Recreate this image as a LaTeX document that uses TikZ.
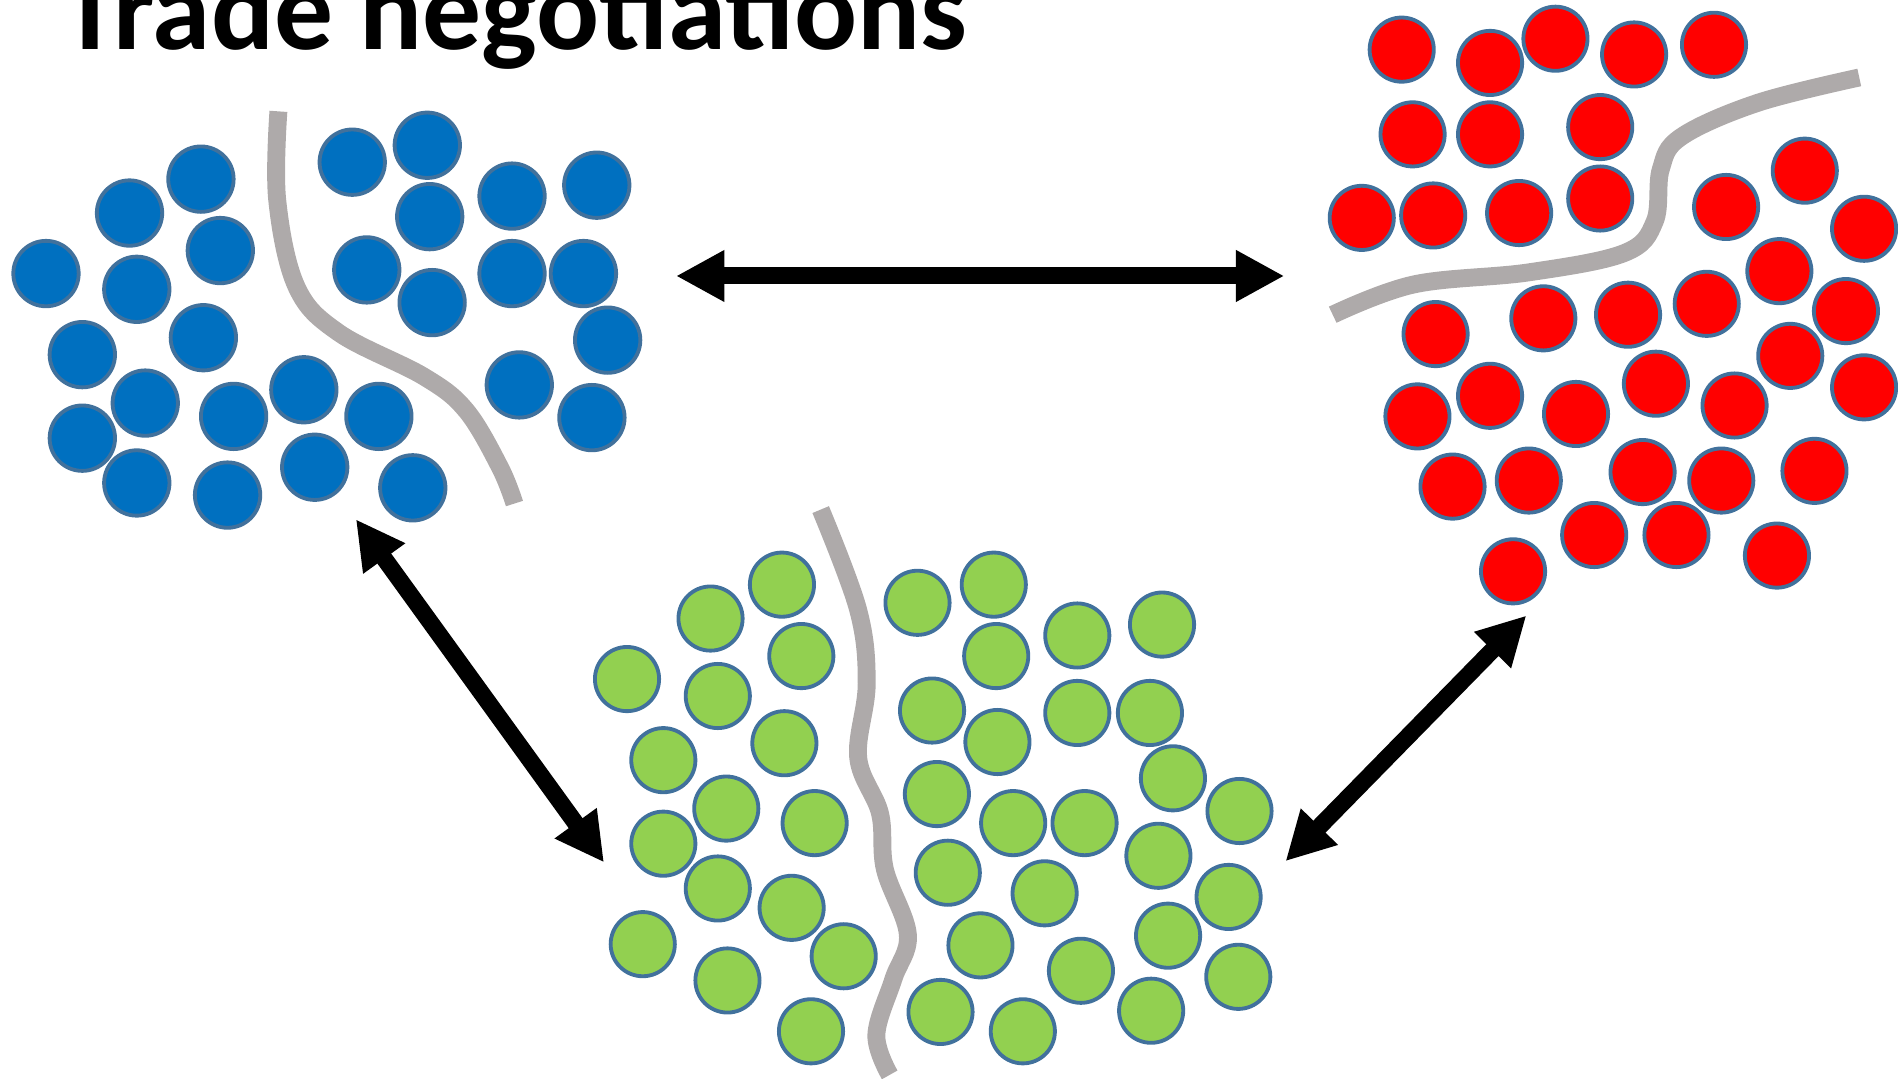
\documentclass[tikz,border=0pt]{standalone}
\usepackage{fontspec}
\setmainfont{Carlito}
\usetikzlibrary{arrows.meta}
\definecolor{dotblue}{HTML}{0070C0}
\definecolor{dotred}{HTML}{FF0000}
\definecolor{dotgreen}{HTML}{92D050}
\definecolor{rim}{HTML}{41719C}
\definecolor{wallgray}{HTML}{AEAAAA}
\begin{document}
\begin{tikzpicture}[x=0.01cm, y=-0.01cm, dot/.style={circle, draw=rim, line width=0.9pt, inner sep=0pt, minimum size=0.53cm}, bdot/.style={dot, fill=dotblue, minimum size=0.54cm}, rdot/.style={dot, fill=dotred}, gdot/.style={dot, fill=dotgreen}, wall/.style={draw=wallgray, line width=4.2pt}, link/.style={{Triangle[length=0.4cm, width=0.4cm]}-{Triangle[length=0.4cm, width=0.4cm]}, line width=4pt}]
                \useasboundingbox (0,0) rectangle (1568,891);
                % title
                \node[anchor=base, inner sep=0pt, font=\fontsize{27.6}{33}\selectfont\bfseries] (title) at (425,41) {Trade negotiations};
                % blue group
                \foreach \x/\y [count=\i] in {166/148, 107/176, 182/207, 38/226, 113/239, 168/279, 68/293, 120/333, 68/362, 193/344, 251/322, 113/399, 188/409, 260/386, 313/344, 341/403, 291/134, 353/120, 355/179, 303/223, 357/250, 423/162, 493/153, 423/226, 482/226, 502/281, 429/318, 489/345}
                    \node[bdot] (b\i) at (\x,\y) {};
                \draw[wall] plot[smooth, tension=0.6] coordinates {(230,92) (229,165) (245,237) (280,275) (350,311) (385,339) (413,386) (425,416)};
                % red group
                \foreach \x/\y [count=\i] in {1158/41, 1231/52, 1285/32, 1350/45, 1416/37, 1167/111, 1231/111, 1322/105, 1125/180, 1184/178, 1255/176, 1322/164, 1426/171, 1491/141, 1540/189, 1470/224, 1186/276, 1275/263, 1345/260, 1410/251, 1525/257, 1479/294, 1540/320, 1368/317, 1433/335, 1171/344, 1231/327, 1302/342, 1200/402, 1263/397, 1357/390, 1422/397, 1499/389, 1317/442, 1385/442, 1250/472, 1468/459}
                    \node[rdot] (r\i) at (\x,\y) {};
                \draw[wall] plot[smooth, tension=0.6] coordinates {(1101,260) (1168,235) (1263,225) (1342,209) (1367,183) (1372,140) (1389,113) (1452,85) (1536,64)};
                % green group
                \foreach \x/\y [count=\i] in {646/483, 587/511, 662/542, 518/561, 593/575, 648/614, 548/628, 600/668, 673/680, 548/697, 593/734, 654/750, 531/780, 601/810, 697/790, 670/852, 758/498, 821/483, 823/542, 890/525, 960/516, 770/587, 824/613, 890/589, 950/589, 969/643, 1024/670, 774/656, 837/680, 896/680, 957/707, 1015/741, 783/721, 863/738, 965/773, 1023/807, 810/781, 893/802, 951/835, 777/836, 845/852}
                    \node[gdot] (g\i) at (\x,\y) {};
                \draw[wall] plot[smooth, tension=0.6] coordinates {(678,421) (709,504) (716,565) (709,626) (727,672) (731,718) (750,772) (738,809) (724,855) (735,888)};
                % arrow ends
                \coordinate (bl) at (558.5,228);
                \coordinate (rl) at (1061,228);
                \coordinate (bg) at (294,429);
                \coordinate (gb) at (499,712.5);
                \coordinate (rg) at (1261,508.5);
                \coordinate (gr) at (1062,711.5);
                % arrows
                \draw[link] (bl) -- (rl);
                \draw[link] (bg) -- (gb);
                \draw[link] (rg) -- (gr);
            \end{tikzpicture}
\end{document}
